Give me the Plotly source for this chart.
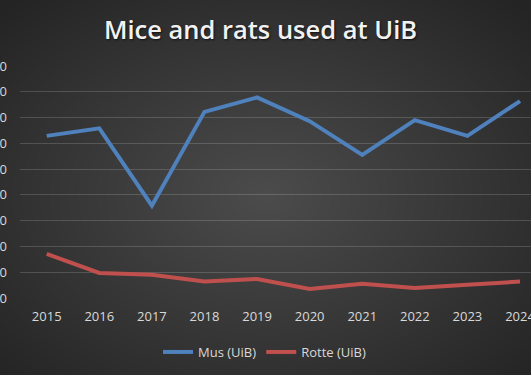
import zlib, struct, base64
import numpy as np
import plotly.graph_objects as go

years = [2015, 2016, 2017, 2018, 2019, 2020, 2021, 2022, 2023, 2024]
mus = [6290, 6580, 3580, 7220, 7780, 6860, 5550, 6900, 6290, 7640]
rotte = [1710, 970, 900, 640, 740, 350, 550, 390, 510, 640]
y_ticks = [0, 1000, 2000, 3000, 4000, 5000, 6000, 7000, 8000, 9000]

W, H = 531, 375
ML, MR, MT, MB = 20, 0, 66, 77


def gradient_png(w, h):
    yy, xx = np.mgrid[0:h, 0:w].astype(float)
    cx, cy = w * 0.5, h * 0.52
    d = np.sqrt(((xx - cx) / (w / 2)) ** 2 + ((yy - cy) / (h / 2)) ** 2) / np.sqrt(2)
    d = np.clip(d, 0, 1)
    c0, c1 = 76.0, 36.0
    v = (c0 + (c1 - c0) * d).astype(np.uint8)
    arr = np.stack([v, v, v], axis=-1)
    raw = b"".join(b"\x00" + arr[r].tobytes() for r in range(h))

    def chunk(tag, data):
        c = struct.pack(">I", len(data)) + tag + data
        return c + struct.pack(">I", zlib.crc32(tag + data) & 0xFFFFFFFF)

    png = b"\x89PNG\r\n\x1a\n"
    png += chunk(b"IHDR", struct.pack(">IIBBBBB", w, h, 8, 2, 0, 0, 0))
    png += chunk(b"IDAT", zlib.compress(raw, 9))
    png += chunk(b"IEND", b"")
    return "data:image/png;base64," + base64.b64encode(png).decode()


pw = W - ML - MR
ph = H - MT - MB

fig = go.Figure()
fig.add_trace(go.Scatter(x=years, y=mus, mode="lines", name="Mus (UiB)",
                         line=dict(color="#4f81bd", width=4)))
fig.add_trace(go.Scatter(x=years, y=rotte, mode="lines", name="Rotte (UiB)",
                         line=dict(color="#c0504d", width=4)))

fig.update_layout(
    width=W, height=H,
    margin=dict(l=ML, r=MR, t=MT, b=MB, pad=0),
    paper_bgcolor="#333333",
    plot_bgcolor="rgba(0,0,0,0)",
    images=[dict(source=gradient_png(W, H), xref="paper", yref="paper",
                 x=-ML / pw, y=1 + MT / ph, sizex=W / pw, sizey=H / ph,
                 xanchor="left", yanchor="top", sizing="stretch", layer="below")],
    title=dict(text="Mice and rats used at UiB", xref="container", yref="container",
               x=260.5 / W, y=1 - 30 / H, xanchor="center", yanchor="middle",
               font=dict(family="Open Sans", size=25.5, color="#f2f2f2", weight=600,
                         shadow="1px 1px 2px #111")),
    showlegend=True,
    legend=dict(orientation="h", xref="container", yref="container",
                x=265 / W, y=1 - 352 / H, xanchor="center", yanchor="middle",
                font=dict(family="Open Sans", size=13, color="#d9d9d9"),
                bgcolor="rgba(0,0,0,0)"),
    xaxis=dict(range=[2014.492, 2024.209], tickvals=years, showgrid=False,
               zeroline=False, showline=False, ticks="",
               tickfont=dict(family="Open Sans", size=13, color="#d9d9d9"),
               ticklabelstandoff=9, ticklabeloverflow="allow"),
    yaxis=dict(range=[0, 9000], tickvals=y_ticks, showgrid=True,
               gridcolor="rgba(255,255,255,0.16)", gridwidth=1,
               zeroline=False, showline=False, ticks="",
               tickfont=dict(family="Open Sans", size=13, color="#d9d9d9"),
               ticklabelstandoff=12, automargin=False, ticklabeloverflow="allow"),
)
fig.update_xaxes(automargin=False)

fig.write_html("out.html", config={"displayModeBar": False},
               post_script="document.body.style.margin='0';document.body.style.overflow='hidden';")
